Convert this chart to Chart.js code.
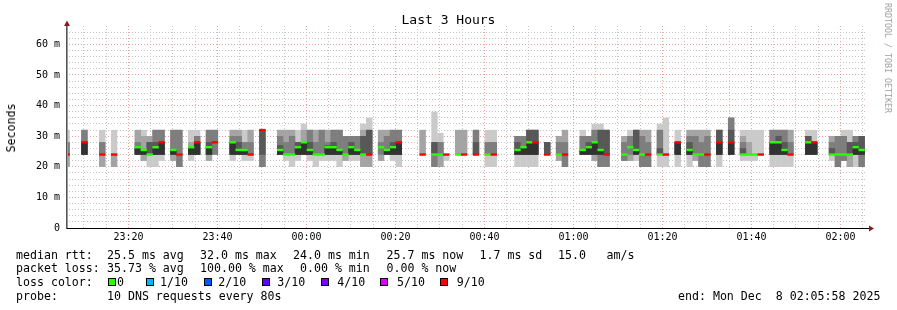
<!DOCTYPE html>
<html><head><meta charset="utf-8">
<script src="https://cdn.jsdelivr.net/npm/chart.js@4"></script>
<style>
html,body{margin:0;padding:0;background:#fff;}
#wrap{position:relative;width:897px;height:310px;overflow:hidden;font-family:"DejaVu Sans Mono",monospace;color:#000;}
canvas{position:absolute;left:0;top:0;}
.t{position:absolute;white-space:pre;font-size:11.6px;line-height:14px;}
#title{position:absolute;left:0;top:11.5px;width:897px;text-align:center;font-size:13px;line-height:16px;white-space:pre;}
#ytitle{position:absolute;left:10.5px;top:127.5px;font-size:11.6px;line-height:14px;transform:translate(-50%,-50%) rotate(-90deg);white-space:pre;}
#wm{position:absolute;left:887.5px;top:58px;font-size:8.3px;line-height:10px;color:#a0a0a0;transform:translate(-50%,-50%) rotate(90deg);white-space:pre;}
.sq{position:absolute;width:8px;height:8px;box-sizing:border-box;border:1px solid #000;}
</style></head><body>
<div id="wrap">
<canvas id="c" width="897" height="310"></canvas>
<div id="title">Last 3 Hours</div>
<div id="ytitle">Seconds</div>
<div id="wm">RRDTOOL / TOBI OETIKER</div>
<div id="footer"></div>
</div>
<script>
// ---- data (times in seconds after 23:00:00; values in ms) ----
const xStart = 358;          // 23:05:58
const xEnd = 11158;          // 02:05:58
const slotFirstCenter = 366; // centre of first 80 s step
const slotStep = 80;
const yMax = 66;
const yMajor = [0,10,20,30,40,50,60];
const yMajorLabels = ['0','10 m','20 m','30 m','40 m','50 m','60 m'];
const yMinorStep = 2;
const xMajor = [1200,2400,3600,4800,6000,7200,8400,9600,10800];
const xMajorLabels = ['23:20','23:40','00:00','00:20','00:40','01:00','01:20','01:40','02:00'];
const xMinorFirst = 600, xMinorStep = 300;

// sorted ping times per 80 s step (10 pings), null = no answer
const pings = [
[20,20,24,24,24,24,24,28,28,32],null,null,[24,24,24,24,24,28,28,32,32,32],null,null,
[20,20,24,24,24,24,24,28,28,32],null,[20,20,24,24,24,24,24,24,24,32],null,null,null,
[24,24,24,24,24,26,26,28,32,32],[22,22,24,24,24,25.5,25.5,25.5,30,32],[20,24,24,24,24,24,28,28,30,30],
[20,24,24,24,24,26,28,32,32,32],[22,24,24,24,24,28,28,32,32,32],null,
[22,22,24,24,24,25.5,25.5,32,32,32],[20,20,20,24,24,24,24,32,32,32],null,
[22,24,24,24,24,26.4,26.4,26.4,28,32],[24,24,24,24,24,28,28,30,30,32],null,
[22,22,24,24,24,26.4,28,32,32,32],[24,24,24,28,28,28,28,32,32,32],null,null,
[22,24,24,24,24,28,28,30,32,32],[24,24,24,24,24,25.5,28,30,32,32],[22,24,24,24,24,25.5,25.5,28,28,32],
[22,24,24,24,24,24,24,28,32,32],null,[20,20,20,24,32,32,32,32,32,32],null,null,
[24,24,24,24,24,25.5,27,30,32,32],[22,24,24,24,24,24,24,28,32,32],[20,24,24,24,24,24,24,30,32,32],
[22,24,24,24,24,26.4,28,28,28,32],[24,24,24,24,24,28,28,28,32,34],[22,24,24,24,24,25.5,28,32,32,32],
[20,24,24,24,24,24,24,28,32,32],[22,24,24,24,24,24,24,32,32,32],[22,24,24,24,24,26.4,27,28,32,32],
[22,24,24,24,24,26.4,28,32,32,32],[20,24,24,24,24,25.5,25.5,32,32,32],[22,22,24,24,24,24,24,30,30,30],
[22,24,24,24,24,26.4,28,30,30,30],[22,24,24,24,24,25.5,25.5,30,30,30],[20,20,24,24,24,24,30,30,32,34],
[20,20,24,24,24,24,32,32,32,36],null,[22,22,24,26.4,26.4,26.4,26.4,28,32,32],
[24,24,24,24,24,25.5,25.5,30,32,32],[22,24,24,24,24,26.4,28,32,32,32],[20,24,24,24,24,28,28,32,32,32],
null,null,null,[24,24,24,24,24,24,24,24,32,32],null,
[20,20,20,24,24,24,28,28,28,38],[20,20,24,24,24,24,24,28,28,31],[22,24,24,24,24,24,24,24,24,24],null,
[24,24,24,24,24,24,24,24,32,32],[24,24,24,24,24,24,24,24,32,32],null,
[24,24,24,24,24,24,28,32,32,32],null,[20,24,24,24,24,24,24,28,28,32],[20,24,24,24,24,24,24,28,28,32],
null,null,null,[20,24,24,24,24,25.5,28,30,30,30],[20,24,24,24,24,26.4,26.4,30,30,30],
[20,24,24,24,24,28,32,32,32,32],[20,24,24,24,24,28,32,32,32,32],null,
[24,24,24,24,24,24,28,28,28,28],null,[22,22,24,24,24,24,24,28,30,30],[20,20,20,24,24,24,24,28,32,32],
null,null,[24,24,24,24,24,25.5,25.5,30,30,32],[24,24,24,24,24,26.4,28,30,30,30],
[22,22,24,24,24,28,28,32,32,34],[20,20,20,24,24,25.5,32,32,32,34],[20,20,20,24,24,24,32,32,32,32],
null,null,[22,22,22,24,24,24,24,28,30,30],[22,22,24,26.4,26.4,26.4,26.4,30,30,32],
[22,24,24,24,24,25.5,32,32,32,32],[20,20,20,24,24,24,24,30,32,32],[20,20,20,24,24,24,24,28,32,32],null,
[20,24,24,24,24,24,26,32,32,34],[20,24,24,24,24,24,24,24,24,36],null,
[20,24,24,24,24,28,28,28,28,32],null,[20,24,24,24,24,25.5,28,30,32,32],[22,22,24,24,24,24,24,30,32,32],
[20,20,20,24,24,24,24,28,32,32],[20,20,20,24,24,24,24,30,32,32],null,
[20,24,24,24,24,28,32,32,32,32],null,[24,24,24,24,24,28,32,36,36,36],null,
[22,24,24,24,24,24,26,28,30,32],[22,24,24,24,24,24,24,24,28,32],[22,24,24,24,24,24,24,24,24,32],
[24,24,24,24,24,24,24,24,24,32],null,[20,24,24,24,24,28,28,32,32,32],[20,24,24,24,24,28,30,32,32,32],
[20,24,24,24,24,25.5,28,32,32,32],[20,24,24,24,24,24,24,28,32,32],null,null,
[24,24,24,24,24,28,30,30,30,32],[24,24,24,24,24,28,28,28,28,32],null,null,
[22,24,24,24,24,24,26,28,30,30],[20,20,20,24,24,24,24,30,30,30],[22,22,22,24,24,24,24,30,30,32],
[20,20,24,24,24,24,28,28,28,32],[20,24,24,24,24,26.4,28,30,30,30],[20,20,20,24,24,25.5,30,30,30,30],null
];

// median rtt per step (ms)
const medians = [
24,null,null,28,null,null,24,null,24,null,null,null,
26.4,25.5,24,26.4,28,null,25.5,24,null,26.4,28,null,26.4,28,null,null,
28,25.5,25.5,24,null,32,null,null,25.5,24,24,26.4,28,25.5,24,24,26.4,26.4,25.5,24,
26.4,25.5,24,24,null,26.4,25.5,26.4,28,null,null,null,24,null,24,24,24,null,24,24,null,
24,null,24,24,null,null,null,25.5,26.4,28,28,null,24,null,24,24,null,null,25.5,26.4,28,25.5,24,
null,null,24,26.4,25.5,24,24,null,24,24,null,28,null,25.5,24,24,24,null,28,null,28,null,
24,24,24,24,null,28,28,25.5,24,null,null,28,28,null,null,24,24,24,24,26.4,25.5,null
];

// lost pings per step (out of 10)
const loss = [
9,0,0,9,0,0,9,0,9,0,0,0,
0,0,0,0,9,0,0,9,0,0,9,0,0,9,0,0,
0,0,0,9,0,9,0,0,0,0,0,0,0,0,0,0,0,0,0,0,
0,0,0,9,0,0,0,0,9,0,0,0,9,0,0,0,9,0,0,9,0,
9,0,0,9,0,0,0,0,0,0,9,0,9,0,0,9,0,0,0,0,0,0,9,
0,0,0,0,0,0,9,0,0,9,0,9,0,0,0,0,9,0,9,0,9,0,
0,0,0,9,0,0,0,0,9,0,0,0,9,0,0,0,0,0,0,0,0,0
];

const lossColors = {0:'#26ff00',1:'#00b8ff',2:'#0059ff',3:'#5e00ff',4:'#7e00ff',5:'#dd00ff',9:'#ff0000'};
const smokeShades = ['#cacaca','#a4a4a4','#7e7e7e','#585858','#323232'];

// ---- layout constants ----
const PLOT_LEFT = 66, PLOT_RIGHT = 867, PLOT_TOP = 26, PLOT_BOTTOM = 228;
const W = 897, H = 310;
const BAR_W = (PLOT_RIGHT - PLOT_LEFT) / (xEnd - xStart) * slotStep;

const slotX = i => slotFirstCenter + slotStep * i;

const datasets = [];
for (let k = 0; k < 5; k++) {
  const data = [];
  pings.forEach((p, i) => {
    if (!p) return;
    const lo = p[k], hi = p[9 - k];
    if (lo == null || hi == null || hi <= lo) return;
    data.push({x: slotX(i), y: [lo, hi]});
  });
  datasets.push({data, backgroundColor: smokeShades[k], order: 10 - k, grouped: false,
    barThickness: BAR_W, borderWidth: 0, inflateAmount: 0.2});
}
const medData = [], medCols = [];
medians.forEach((m, i) => {
  if (m == null) return;
  medData.push({x: slotX(i), y: [m - 0.33, m + 0.33]});
  medCols.push(lossColors[loss[i]]);
});
datasets.push({data: medData, backgroundColor: medCols, order: 0, grouped: false,
  barThickness: BAR_W, borderWidth: 0, inflateAmount: 0.2});

const GRID_MINOR = '#c4c4c4';
const GRID_MAJOR = '#eaa0a0';

const axisPlugin = {
  id: 'rrdAxes',
  afterDraw(chart) {
    const {ctx, chartArea: a} = chart;
    const xs = chart.scales.x;
    ctx.save();
    // x axis
    ctx.fillStyle = '#000';
    ctx.fillRect(a.left, a.bottom, a.right - a.left + 2, 1);
    // y axis
    ctx.fillStyle = '#555';
    ctx.fillRect(a.left, a.top - 2, 1, a.bottom - a.top + 3);
    ctx.fillStyle = '#9a9a9a';
    ctx.fillRect(a.left + 1, a.top - 2, 1, a.bottom - a.top + 2);
    // arrows
    ctx.fillStyle = '#8a1c1c';
    ctx.beginPath();
    ctx.moveTo(a.left + 1, a.top - 5.5); ctx.lineTo(a.left - 2, a.top); ctx.lineTo(a.left + 4, a.top);
    ctx.closePath(); ctx.fill();
    ctx.beginPath();
    ctx.moveTo(a.right + 7, a.bottom + 0.5); ctx.lineTo(a.right + 2, a.bottom - 2.5); ctx.lineTo(a.right + 2, a.bottom + 3.5);
    ctx.closePath(); ctx.fill();
    // x tick labels
    ctx.fillStyle = '#000';
    ctx.font = '10px "DejaVu Sans Mono"';
    ctx.textAlign = 'center';
    ctx.textBaseline = 'middle';
    xMajor.forEach((v, j) => ctx.fillText(xMajorLabels[j], xs.getPixelForValue(v), a.bottom + 9.5));
    ctx.restore();
  }
};

const xGrid = [];
for (let v = xMinorFirst; v < xEnd; v += xMinorStep) xGrid.push(v);
const yGrid = [];
for (let v = 0; v < yMax; v += yMinorStep) yGrid.push(v);

new Chart(document.getElementById('c').getContext('2d'), {
  type: 'bar',
  data: {datasets},
  plugins: [axisPlugin],
  options: {
    responsive: false, animation: false, devicePixelRatio: 1, events: [],
    layout: {padding: {left: 0, right: W - PLOT_RIGHT, top: PLOT_TOP, bottom: H - PLOT_BOTTOM}},
    plugins: {legend: {display: false}, tooltip: {enabled: false}, title: {display: false}},
    scales: {
      x: {
        type: 'linear', min: xStart, max: xEnd, offset: false, z: 1,
        afterBuildTicks: s => { s.ticks = xGrid.map(v => ({value: v})); },
        afterFit: s => { s.height = 0; },
        grid: {offset: false, drawTicks: false, lineWidth: 1,
          color: c => (c.tick && xMajor.includes(c.tick.value)) ? GRID_MAJOR : GRID_MINOR},
        border: {display: false, dash: [1, 2]},
        ticks: {display: false, autoSkip: false}
      },
      y: {
        type: 'linear', min: 0, max: yMax, z: 1,
        afterBuildTicks: s => { s.ticks = yGrid.map(v => ({value: v})); },
        afterFit: s => { s.width = PLOT_LEFT; },
        grid: {drawTicks: false, lineWidth: 1,
          color: c => (c.tick && yMajor.includes(c.tick.value)) ? GRID_MAJOR : GRID_MINOR},
        border: {display: false, dash: [1, 2]},
        ticks: {autoSkip: false, padding: 6, color: '#000',
          font: {family: 'DejaVu Sans Mono', size: 10},
          callback: v => { const j = yMajor.indexOf(v); return j >= 0 ? yMajorLabels[j] : ''; }}
      }
    }
  }
});

// ---- footer text ----
const footerItems = [
  [16,247.5,'median rtt:'],[107,247.5,'25.5 ms avg'],[200,247.5,'32.0 ms max'],[293,247.5,'24.0 ms min'],
  [386.5,247.5,'25.7 ms now'],[479.5,247.5,'1.7 ms sd'],[558,247.5,'15.0'],[606.5,247.5,'am/s'],
  [16,261,'packet loss:'],[107,261,'35.73 % avg'],[200,261,'100.00 % max'],[300,261,'0.00 % min'],[386.5,261,'0.00 % now'],
  [16,275,'loss color:'],
  [16,288.5,'probe:'],[107,288.5,'10 DNS requests every 80s'],[678,288.5,'end: Mon Dec  8 02:05:58 2025']
];
const legendItems = [
  [108,117,'0',0],[146,160,'1/10',1],[203.5,218.3,'2/10',2],[262,277.3,'3/10',3],
  [321,337.3,'4/10',4],[380,397,'5/10',5],[439.5,456.7,'9/10',9]
];
const footer = document.getElementById('footer');
footerItems.forEach(([x, y, s]) => {
  const d = document.createElement('div'); d.className = 't';
  d.style.left = x + 'px'; d.style.top = y + 'px'; d.textContent = s; footer.appendChild(d);
});
legendItems.forEach(([sx, tx, s, k]) => {
  const q = document.createElement('div'); q.className = 'sq';
  q.style.left = sx + 'px'; q.style.top = '278px'; q.style.background = lossColors[k]; footer.appendChild(q);
  const d = document.createElement('div'); d.className = 't';
  d.style.left = tx + 'px'; d.style.top = '275px'; d.textContent = s; footer.appendChild(d);
});
</script>
</body></html>
